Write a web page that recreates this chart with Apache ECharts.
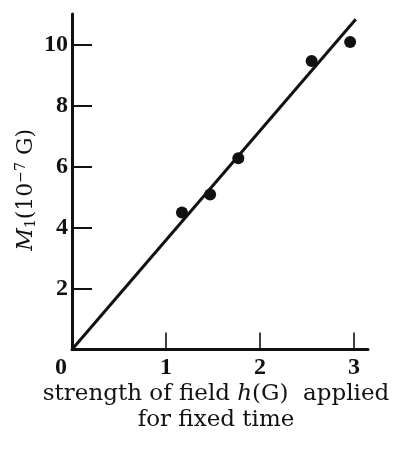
<!DOCTYPE html>
<html>
<head>
<meta charset="utf-8">
<script src="https://cdn.jsdelivr.net/npm/echarts@6/dist/echarts.min.js"></script>
<style>
  html, body { margin: 0; padding: 0; background: #fff; }
  #chart { width: 395px; height: 451px; }
</style>
</head>
<body>
<div id="chart"></div>
<script>
// Measured magnetisation vs. applied field strength
const fieldValues = [1.17, 1.47, 1.77, 2.55, 2.96];
const momentValues = [4.49, 5.08, 6.27, 9.46, 10.08];

// Straight-line fit through the origin
const fitField = [0, 3.02];
const fitMoment = [0, 10.83];

// Tick labels
const xTickLabels = [0, 1, 2, 3];
const xTickMarks = [1, 2, 3];
const yTickLabels = [2, 4, 6, 8, 10];

const ink = '#111';
const serif = 'DejaVu Serif';
const digitFont = 'Liberation Serif';

const chart = echarts.init(document.getElementById('chart'));

chart.setOption({
  animation: false,
  backgroundColor: '#fff',
  grid: { left: 72, right: 27, top: 14, bottom: 101.5, outerBoundsMode: 'none', containLabel: false },
  xAxis: {
    type: 'value',
    min: 0,
    max: 3.15,
    interval: 1,
    splitLine: { show: false },
    axisLine: { lineStyle: { color: ink, width: 3 } },
    axisTick: {
      inside: true,
      length: 17,
      customValues: xTickMarks,
      lineStyle: { color: ink, width: 1.6 }
    },
    axisLabel: {
      customValues: xTickLabels,
      margin: 6,
      color: ink,
      fontFamily: digitFont,
      fontWeight: 'bold',
      fontSize: 24,
      formatter: v => (v === 0 ? '{z|0}' : String(v)),
      rich: {
        z: {
          fontFamily: digitFont,
          fontWeight: 'bold',
          fontSize: 24,
          color: ink,
          padding: [0, 22, 0, 0]
        }
      }
    },
    name: 'strength of field {i|h}(G)  applied\nfor fixed time',
    nameLocation: 'middle',
    nameGap: 32,
    nameMoveOverlap: false,
    nameTextStyle: {
      fontFamily: serif,
      fontSize: 23,
      color: ink,
      lineHeight: 26,
      padding: [0, 8, 0, 0],
      rich: {
        i: { fontFamily: serif, fontStyle: 'italic', fontSize: 23, color: ink, lineHeight: 26 }
      }
    }
  },
  yAxis: {
    type: 'value',
    min: 0,
    max: 11,
    interval: 2,
    splitLine: { show: false },
    axisLine: { lineStyle: { color: ink, width: 3 } },
    axisTick: {
      inside: true,
      length: 20,
      customValues: yTickLabels,
      lineStyle: { color: ink, width: 2 }
    },
    axisLabel: {
      customValues: yTickLabels,
      margin: 4,
      color: ink,
      fontFamily: digitFont,
      fontWeight: 'bold',
      fontSize: 24
    },
    name: '{i|M}{s|1}(10{p|−7} G)',
    nameLocation: 'middle',
    nameGap: 34,
    nameRotate: 90,
    nameMoveOverlap: false,
    nameTextStyle: {
      fontFamily: serif,
      fontSize: 22,
      color: ink,
      padding: [0, 16, 0, 0],
      rich: {
        i: { fontFamily: serif, fontStyle: 'italic', fontSize: 22, color: ink },
        s: { fontFamily: serif, fontSize: 14, color: ink, verticalAlign: 'bottom', padding: [10, 0, 0, 0] },
        p: { fontFamily: serif, fontSize: 14, color: ink, verticalAlign: 'top', padding: [0, 0, 10, 0] }
      }
    }
  },
  series: [
    {
      type: 'line',
      data: fitField.map((x, i) => [x, fitMoment[i]]),
      symbol: 'none',
      lineStyle: { color: ink, width: 3 },
      silent: true
    },
    {
      type: 'scatter',
      data: fieldValues.map((x, i) => [x, momentValues[i]]),
      symbol: 'circle',
      symbolSize: 12,
      itemStyle: { color: ink, opacity: 1 }
    }
  ]
});
</script>
</body>
</html>
